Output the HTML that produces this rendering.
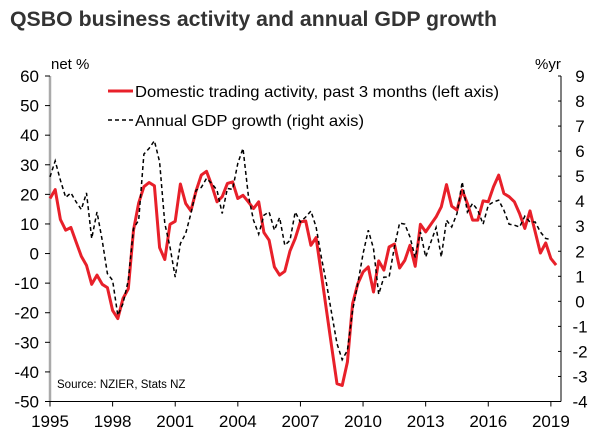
<!DOCTYPE html>
<html><head><meta charset="utf-8">
<style>
html,body{margin:0;padding:0;background:#fff;}
body{width:607px;height:441px;overflow:hidden;font-family:"Liberation Sans",Arial,sans-serif;}
svg{display:block;}
</style></head>
<body>
<svg id="chart" width="607" height="441" xmlns="http://www.w3.org/2000/svg">
<text x="10" y="26" font-size="21" font-weight="bold" fill="#333" textLength="487" lengthAdjust="spacingAndGlyphs">QSBO business activity and annual GDP growth</text>
<text x="51" y="69" font-size="15" fill="#000">net %</text>
<text x="535" y="69" font-size="15" fill="#000">%yr</text>
<g id="axes"></g>
<g id="series"></g>
<g>
<line x1="108" y1="91" x2="133" y2="91" stroke="#e8202a" stroke-width="3"/>
<text x="135" y="97" font-size="16" fill="#000" textLength="364" lengthAdjust="spacingAndGlyphs">Domestic trading activity, past 3 months (left axis)</text>
<line x1="108" y1="120" x2="133" y2="120" stroke="#000" stroke-width="1.5" stroke-dasharray="4,3"/>
<text x="135" y="126" font-size="16" fill="#000" textLength="229" lengthAdjust="spacingAndGlyphs">Annual GDP growth (right axis)</text>
</g>
<text x="57" y="388" font-size="11.5" fill="#000">Source: NZIER, Stats NZ</text>
</svg>
<script>
const leftTicks=[60,50,40,30,20,10,0,-10,-20,-30,-40,-50];
const rightTicks=[9,8,7,6,5,4,3,2,1,0,-1,-2,-3,-4];
const yearTicks=[1995,1998,2001,2004,2007,2010,2013,2016,2019];
const activity=[18.6,21.6,11.5,7.9,8.8,3.9,-0.9,-4,-10.4,-7.3,-10.4,-11.5,-19.2,-22,-15.2,-11.9,7.9,17.1,22.6,24,22.9,2,-2,9.9,10.9,23.5,16.9,14.4,21.2,26.5,27.8,23.1,17.5,19.2,23.7,24.2,18.6,19.7,17.5,15.2,17.5,7.1,4.5,-4.5,-7.3,-6,0.9,5.1,10.7,11,2.8,
5.4,-6.8,-19.2,-31.6,-44,-44.6,-36.7,-16.9,-10.2,-6.2,-4.5,-13,-2.5,-5.6,2.2,3.2,-4.9,-2.3,2.8,-4.3,9.9,7.3,9.9,12.4,15.8,23.3,16,14.7,21.4,16.9,11.3,11.3,17.8,17.5,22.6,26.5,20.3,19.2,17.5,13.5,8.5,14.4,7.3,0.2,3.6,-1.7,-3.9];
const gdp=[4.97,5.61,4.84,4.15,4.33,3.97,3.67,4.33,2.51,3.57,2.44,1.11,0.84,-0.56,-0.09,0.84,2.91,3.24,5.88,6.11,6.41,5.57,3.11,2.17,0.97,2.31,2.71,3.51,4.44,4.55,4.91,4.71,4.44,3.51,4.51,4.47,5.51,6.11,4.24,3.24,2.68,3.44,3.57,2.84,3.35,2.24,2.44,3.57,3.17,3.37,3.61,
2.97,1.77,0.71,-0.49,-1.69,-2.33,-1.96,-0.36,0.71,1.91,2.84,2.11,0.28,0.97,0.97,2.17,3.13,3.08,2.57,1.75,2.77,1.77,2.37,2.95,1.77,3.24,2.97,3.51,4.77,3.57,3.91,3.64,3.08,3.84,3.97,4.04,3.64,3.08,3.04,2.97,3.4,3.17,3.17,2.77,2.51,2.47];
const startYear=1995;
const NS="http://www.w3.org/2000/svg";
const X0=50,PXY=20.87,YT=76,YB=401.5,XR=561;
function xYear(y){return X0+(y-1995)*PXY;}
function xQ(i){return xYear(startYear+i/4);}
function yL(v){return YT+(60-v)*(YB-YT)/110;}
function yR(v){return YT+(9-v)*(YB-YT)/13;}
function mk(tag,attrs,parent){const e=document.createElementNS(NS,tag);for(const k in attrs)e.setAttribute(k,attrs[k]);parent.appendChild(e);return e;}
const axes=document.getElementById('axes');
let el=mk('line',{x1:X0,y1:YT,x2:X0,y2:YB,stroke:'#aaa','stroke-width':2.5},axes);


el=mk('line',{x1:XR,y1:YT,x2:XR,y2:YB,stroke:'#000','stroke-width':1},axes);


leftTicks.forEach(v=>{
  const y=yL(v);
  let t=mk('line',{x1:X0-5,y1:y,x2:X0,y2:y,stroke:'#000','stroke-width':1},axes);
  
  
  let l=mk('text',{x:39,y:y+6,'font-size':17,'text-anchor':'end',fill:'#000'},axes);
  l.textContent=v;
  
  
});
rightTicks.forEach(v=>{
  const y=yR(v);
  let t=mk('line',{x1:XR-3,y1:y,x2:XR,y2:y,stroke:'#000','stroke-width':1},axes);
  
  
  let l=mk('text',{x:580,y:y+6,'font-size':17,'text-anchor':'middle',fill:'#000'},axes);
  l.textContent=v;
  
  
});
el=mk('line',{x1:X0,y1:YB,x2:XR,y2:YB,stroke:'#000','stroke-width':1},axes);


yearTicks.forEach(yr=>{
  const x=xYear(yr);
  let t=mk('line',{x1:x,y1:YB,x2:x,y2:YB+5,stroke:'#000','stroke-width':1},axes);
  
  
  let l=mk('text',{x:x,y:427,'font-size':17,'text-anchor':'middle',fill:'#000'},axes);
  l.textContent=yr;
  
  
});
const series=document.getElementById('series');
let p=mk('polyline',{points:activity.map((v,i)=>xQ(i).toFixed(1)+','+yL(v).toFixed(1)).join(' '),fill:'none',stroke:'#e8202a','stroke-width':3,'stroke-linejoin':'round'},series);


p=mk('polyline',{points:gdp.map((v,i)=>xQ(i).toFixed(1)+','+yR(v).toFixed(1)).join(' '),fill:'none',stroke:'#000','stroke-width':1.5,'stroke-dasharray':'4,3'},series);


</script>
</body></html>
